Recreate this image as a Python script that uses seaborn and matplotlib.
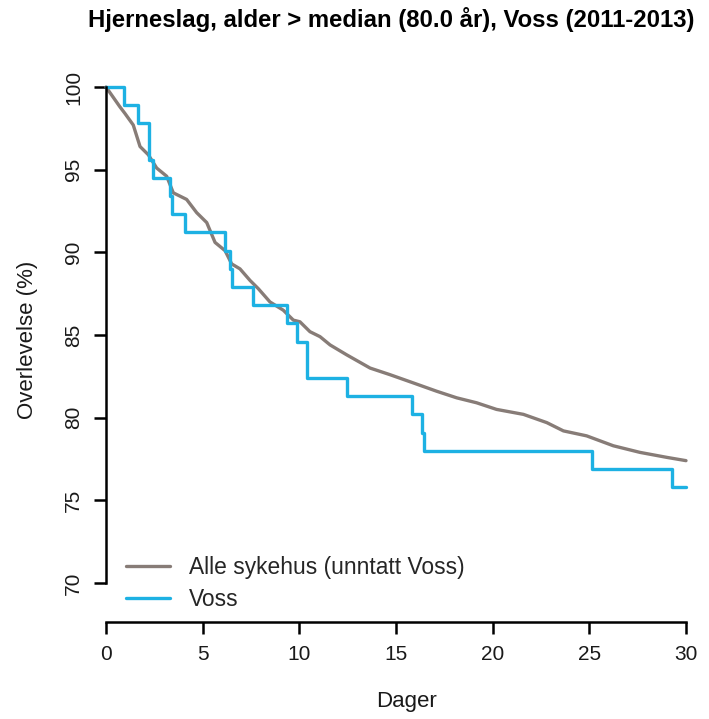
import matplotlib
matplotlib.use("Agg")
import matplotlib.pyplot as plt
import seaborn as sns
import pandas as pd

# Kaplan-Meier estimates, 30-day survival after stroke, age > 80
alle_dager = [0, 0.72, 0.98, 1.41, 1.76, 2.19, 2.62, 3.14, 3.48, 4.17, 4.69, 5.21,
              5.64, 6.16, 6.5, 6.93, 7.45, 7.88, 8.48, 9.17, 9.69, 10.03, 10.55,
              11.07, 11.59, 12.45, 13.66, 14.69, 15.9, 17.1, 18.14, 19.17, 20.2,
              21.59, 22.8, 23.66, 24.86, 26.24, 27.62, 29.0, 30.0]
alle_overlevelse = [100, 98.8, 98.4, 97.7, 96.4, 95.9, 95.1, 94.6, 93.6, 93.2, 92.4,
                    91.8, 90.6, 90.1, 89.3, 89.0, 88.3, 87.8, 87.0, 86.5, 85.9, 85.8,
                    85.2, 84.9, 84.4, 83.8, 83.0, 82.6, 82.1, 81.6, 81.2, 80.9, 80.5,
                    80.2, 79.7, 79.2, 78.9, 78.3, 77.9, 77.6, 77.4]

voss_dager = [0, 0.93, 1.65, 2.2, 2.45, 3.3, 3.4, 4.1, 6.16, 6.41, 6.53, 7.62, 9.38,
              9.86, 10.38, 10.41, 12.48, 15.81, 16.33, 16.45, 25.12, 29.26, 30.0]
voss_overlevelse = [100, 98.9, 97.8, 95.6, 94.5, 93.4, 92.3, 91.2, 90.1, 89.0, 87.9,
                    86.8, 85.7, 84.6, 83.5, 82.4, 81.3, 80.2, 79.1, 78.0, 76.9, 75.8,
                    75.8]

x_ticks = [0, 5, 10, 15, 20, 25, 30]
y_ticks = [70, 75, 80, 85, 90, 95, 100]

navn_alle = "Alle sykehus (unntatt Voss)"
navn_voss = "Voss"
tittel = "Hjerneslag, alder > median (80.0 år), Voss (2011-2013)"

farge_alle = "#877C77"
farge_voss = "#1DB1E3"
tekstfarge = "#1a1a1a"

sns.set_style("ticks")
plt.rcParams["font.family"] = ["Liberation Sans", "DejaVu Sans"]

df_alle = pd.DataFrame({"dag": alle_dager, "overlevelse": alle_overlevelse})
df_voss = pd.DataFrame({"dag": voss_dager, "overlevelse": voss_overlevelse})

W, H = 709, 719
fig = plt.figure(figsize=(W / 100, H / 100), dpi=100)
ax = fig.add_axes([106 / W, (H - 583) / H, 580 / W, 496 / H])

sns.lineplot(data=df_alle, x="dag", y="overlevelse", ax=ax, color=farge_alle,
             linewidth=2.4, sort=False, estimator=None, label=navn_alle,
             clip_on=False)
sns.lineplot(data=df_voss, x="dag", y="overlevelse", ax=ax, color=farge_voss,
             linewidth=2.4, sort=False, estimator=None, label=navn_voss,
             drawstyle="steps-post", clip_on=False)

ax.set_xlim(0, 30)
ax.set_ylim(70, 100)
ax.set_xticks(x_ticks)
ax.set_yticks(y_ticks)
ax.set_xlabel("")
ax.set_ylabel("")

for side in ["top", "right"]:
    ax.spines[side].set_visible(False)
for side in ["left", "bottom"]:
    ax.spines[side].set_linewidth(1.8)
    ax.spines[side].set_color("black")
ax.spines["bottom"].set_position(("outward", 28))
ax.spines["left"].set_bounds(70, 100)
ax.spines["bottom"].set_bounds(0, 30)

ax.tick_params(axis="both", which="major", direction="out", length=8.5, width=1.8,
               color="black", labelsize=15, labelcolor=tekstfarge,
               bottom=True, left=True)
ax.tick_params(axis="x", pad=8)
ax.tick_params(axis="y", pad=8, labelrotation=90)
for lab in ax.get_yticklabels():
    lab.set_verticalalignment("center")

fig.text(391 / W, 1 - 20 / H, tittel, ha="center", va="center",
         fontsize=17.2, fontweight="bold", color="black")
fig.text(407 / W, 1 - 702 / H, "Dager", ha="center", va="center", fontsize=16,
         color=tekstfarge)
fig.text(27 / W, 1 - 340 / H, "Overlevelse (%)", ha="center", va="center",
         rotation=90, fontsize=16, color=tekstfarge)

ax.legend(loc="upper left", bbox_to_anchor=(126 / W, 1 - 556 / H),
          bbox_transform=fig.transFigure, frameon=False, fontsize=16.4,
          handlelength=1.95, handletextpad=0.8, labelspacing=0.4,
          borderaxespad=0, borderpad=0)

fig.savefig("out.png", dpi=100)
